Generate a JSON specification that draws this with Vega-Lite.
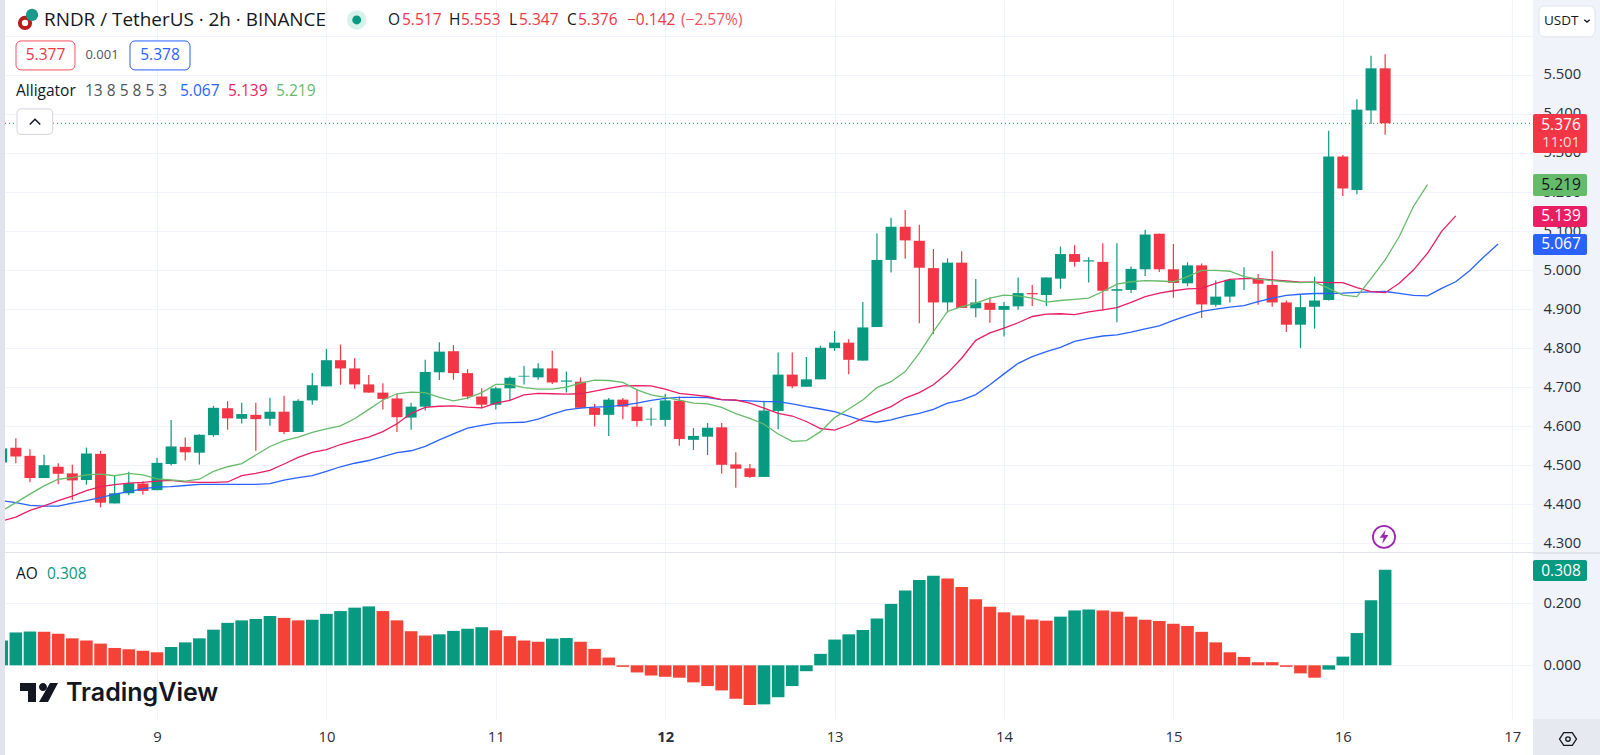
{
"$schema":"https://vega.github.io/schema/vega-lite/v6.json",
"background":"#f0f3fa",
"padding":0,
"spacing":0,
"bounds":"flush",
"data":{"values":[{"annotation":1}]},
"resolve":{"scale":{"color":"independent"}},
"config":{"view":{"stroke":null},"text":{"font":"Open Sans","fontSize":15.5,"align":"left","baseline":"middle","color":"#131722"},"axis":{"labelFont":"Open Sans","labelFontSize":14.8,"labelColor":"#2a2e39","gridColor":"#f0f3fa","gridWidth":1}},
"datasets":{
"ohlc":[
{"d":8.0833,"o":4.507,"h":4.55,"l":4.50,"c":4.543,"dir":"up"},
{"d":8.1667,"o":4.545,"h":4.569,"l":4.505,"c":4.522,"dir":"down"},
{"d":8.25,"o":4.524,"h":4.541,"l":4.456,"c":4.467,"dir":"down"},
{"d":8.3333,"o":4.467,"h":4.527,"l":4.467,"c":4.500,"dir":"up"},
{"d":8.4167,"o":4.496,"h":4.505,"l":4.451,"c":4.478,"dir":"down"},
{"d":8.5,"o":4.479,"h":4.501,"l":4.411,"c":4.461,"dir":"down"},
{"d":8.5833,"o":4.462,"h":4.545,"l":4.450,"c":4.530,"dir":"up"},
{"d":8.6667,"o":4.529,"h":4.537,"l":4.392,"c":4.404,"dir":"down"},
{"d":8.75,"o":4.402,"h":4.473,"l":4.402,"c":4.428,"dir":"up"},
{"d":8.8333,"o":4.428,"h":4.483,"l":4.423,"c":4.454,"dir":"up"},
{"d":8.9167,"o":4.453,"h":4.459,"l":4.424,"c":4.434,"dir":"down"},
{"d":9,"o":4.436,"h":4.519,"l":4.436,"c":4.506,"dir":"up"},
{"d":9.0833,"o":4.503,"h":4.616,"l":4.499,"c":4.548,"dir":"up"},
{"d":9.1667,"o":4.547,"h":4.571,"l":4.512,"c":4.533,"dir":"down"},
{"d":9.25,"o":4.532,"h":4.579,"l":4.502,"c":4.578,"dir":"up"},
{"d":9.3333,"o":4.577,"h":4.652,"l":4.573,"c":4.647,"dir":"up"},
{"d":9.4167,"o":4.646,"h":4.664,"l":4.591,"c":4.620,"dir":"down"},
{"d":9.5,"o":4.619,"h":4.660,"l":4.607,"c":4.631,"dir":"up"},
{"d":9.5833,"o":4.629,"h":4.660,"l":4.537,"c":4.618,"dir":"down"},
{"d":9.6667,"o":4.619,"h":4.673,"l":4.601,"c":4.637,"dir":"up"},
{"d":9.75,"o":4.637,"h":4.678,"l":4.579,"c":4.585,"dir":"down"},
{"d":9.8333,"o":4.585,"h":4.669,"l":4.585,"c":4.665,"dir":"up"},
{"d":9.9167,"o":4.666,"h":4.736,"l":4.655,"c":4.705,"dir":"up"},
{"d":10,"o":4.702,"h":4.798,"l":4.702,"c":4.769,"dir":"up"},
{"d":10.0833,"o":4.769,"h":4.809,"l":4.706,"c":4.748,"dir":"down"},
{"d":10.1667,"o":4.748,"h":4.774,"l":4.696,"c":4.707,"dir":"down"},
{"d":10.25,"o":4.707,"h":4.731,"l":4.686,"c":4.686,"dir":"down"},
{"d":10.3333,"o":4.686,"h":4.710,"l":4.643,"c":4.670,"dir":"down"},
{"d":10.4167,"o":4.671,"h":4.683,"l":4.585,"c":4.623,"dir":"down"},
{"d":10.5,"o":4.622,"h":4.660,"l":4.591,"c":4.650,"dir":"up"},
{"d":10.5833,"o":4.650,"h":4.770,"l":4.640,"c":4.739,"dir":"up"},
{"d":10.6667,"o":4.738,"h":4.815,"l":4.718,"c":4.791,"dir":"up"},
{"d":10.75,"o":4.792,"h":4.808,"l":4.719,"c":4.736,"dir":"down"},
{"d":10.8333,"o":4.736,"h":4.746,"l":4.669,"c":4.676,"dir":"down"},
{"d":10.9167,"o":4.676,"h":4.697,"l":4.646,"c":4.655,"dir":"down"},
{"d":11,"o":4.655,"h":4.701,"l":4.643,"c":4.697,"dir":"up"},
{"d":11.0833,"o":4.697,"h":4.727,"l":4.666,"c":4.724,"dir":"up"},
{"d":11.1667,"o":4.727,"h":4.755,"l":4.707,"c":4.729,"dir":"up"},
{"d":11.25,"o":4.725,"h":4.761,"l":4.719,"c":4.748,"dir":"up"},
{"d":11.3333,"o":4.748,"h":4.793,"l":4.708,"c":4.712,"dir":"down"},
{"d":11.4167,"o":4.714,"h":4.740,"l":4.686,"c":4.717,"dir":"up"},
{"d":11.5,"o":4.714,"h":4.725,"l":4.647,"c":4.647,"dir":"down"},
{"d":11.5833,"o":4.647,"h":4.657,"l":4.599,"c":4.629,"dir":"down"},
{"d":11.6667,"o":4.629,"h":4.672,"l":4.575,"c":4.668,"dir":"up"},
{"d":11.75,"o":4.668,"h":4.672,"l":4.618,"c":4.650,"dir":"down"},
{"d":11.8333,"o":4.650,"h":4.695,"l":4.599,"c":4.613,"dir":"down"},
{"d":11.9167,"o":4.617,"h":4.647,"l":4.601,"c":4.619,"dir":"up"},
{"d":12,"o":4.616,"h":4.683,"l":4.599,"c":4.666,"dir":"up"},
{"d":12.0833,"o":4.665,"h":4.676,"l":4.550,"c":4.567,"dir":"down"},
{"d":12.1667,"o":4.565,"h":4.595,"l":4.539,"c":4.575,"dir":"up"},
{"d":12.25,"o":4.573,"h":4.608,"l":4.526,"c":4.596,"dir":"up"},
{"d":12.3333,"o":4.597,"h":4.608,"l":4.479,"c":4.501,"dir":"down"},
{"d":12.4167,"o":4.502,"h":4.533,"l":4.442,"c":4.491,"dir":"down"},
{"d":12.5,"o":4.492,"h":4.503,"l":4.467,"c":4.470,"dir":"down"},
{"d":12.5833,"o":4.470,"h":4.665,"l":4.470,"c":4.640,"dir":"up"},
{"d":12.6667,"o":4.639,"h":4.789,"l":4.592,"c":4.732,"dir":"up"},
{"d":12.75,"o":4.732,"h":4.789,"l":4.697,"c":4.702,"dir":"down"},
{"d":12.8333,"o":4.701,"h":4.777,"l":4.701,"c":4.720,"dir":"up"},
{"d":12.9167,"o":4.720,"h":4.806,"l":4.720,"c":4.801,"dir":"up"},
{"d":13,"o":4.800,"h":4.844,"l":4.793,"c":4.814,"dir":"up"},
{"d":13.0833,"o":4.814,"h":4.823,"l":4.733,"c":4.770,"dir":"down"},
{"d":13.1667,"o":4.768,"h":4.918,"l":4.768,"c":4.853,"dir":"up"},
{"d":13.25,"o":4.854,"h":5.094,"l":4.854,"c":5.026,"dir":"up"},
{"d":13.3333,"o":5.026,"h":5.134,"l":4.994,"c":5.111,"dir":"up"},
{"d":13.4167,"o":5.111,"h":5.154,"l":5.029,"c":5.076,"dir":"down"},
{"d":13.5,"o":5.075,"h":5.116,"l":4.864,"c":5.006,"dir":"down"},
{"d":13.5833,"o":5.005,"h":5.054,"l":4.836,"c":4.917,"dir":"down"},
{"d":13.6667,"o":4.917,"h":5.030,"l":4.891,"c":5.019,"dir":"up"},
{"d":13.75,"o":5.019,"h":5.048,"l":4.903,"c":4.903,"dir":"down"},
{"d":13.8333,"o":4.902,"h":4.977,"l":4.879,"c":4.917,"dir":"up"},
{"d":13.9167,"o":4.916,"h":4.930,"l":4.865,"c":4.898,"dir":"down"},
{"d":14,"o":4.898,"h":4.918,"l":4.830,"c":4.908,"dir":"up"},
{"d":14.0833,"o":4.907,"h":4.981,"l":4.898,"c":4.941,"dir":"up"},
{"d":14.1667,"o":4.941,"h":4.962,"l":4.908,"c":4.938,"dir":"down"},
{"d":14.25,"o":4.936,"h":4.981,"l":4.908,"c":4.981,"dir":"up"},
{"d":14.3333,"o":4.978,"h":5.060,"l":4.952,"c":5.041,"dir":"up"},
{"d":14.4167,"o":5.041,"h":5.064,"l":5.009,"c":5.021,"dir":"down"},
{"d":14.5,"o":5.022,"h":5.033,"l":4.968,"c":5.025,"dir":"up"},
{"d":14.5833,"o":5.021,"h":5.069,"l":4.896,"c":4.947,"dir":"down"},
{"d":14.6667,"o":4.947,"h":5.069,"l":4.866,"c":4.951,"dir":"up"},
{"d":14.75,"o":4.949,"h":5.009,"l":4.941,"c":5.003,"dir":"up"},
{"d":14.8333,"o":5.002,"h":5.103,"l":4.985,"c":5.091,"dir":"up"},
{"d":14.9167,"o":5.093,"h":5.094,"l":4.995,"c":5.002,"dir":"down"},
{"d":15,"o":5.002,"h":5.067,"l":4.929,"c":4.967,"dir":"down"},
{"d":15.0833,"o":4.966,"h":5.020,"l":4.959,"c":5.012,"dir":"up"},
{"d":15.1667,"o":5.012,"h":5.017,"l":4.877,"c":4.912,"dir":"down"},
{"d":15.25,"o":4.911,"h":4.973,"l":4.906,"c":4.932,"dir":"up"},
{"d":15.3333,"o":4.932,"h":4.978,"l":4.917,"c":4.975,"dir":"up"},
{"d":15.4167,"o":4.977,"h":5.007,"l":4.949,"c":4.979,"dir":"up"},
{"d":15.5,"o":4.978,"h":4.990,"l":4.911,"c":4.965,"dir":"down"},
{"d":15.5833,"o":4.962,"h":5.049,"l":4.906,"c":4.917,"dir":"down"},
{"d":15.6667,"o":4.917,"h":4.922,"l":4.841,"c":4.860,"dir":"down"},
{"d":15.75,"o":4.860,"h":4.936,"l":4.800,"c":4.905,"dir":"up"},
{"d":15.8333,"o":4.906,"h":4.983,"l":4.850,"c":4.922,"dir":"up"},
{"d":15.9167,"o":4.923,"h":5.357,"l":4.922,"c":5.291,"dir":"up"},
{"d":16,"o":5.291,"h":5.295,"l":5.190,"c":5.209,"dir":"down"},
{"d":16.0833,"o":5.205,"h":5.438,"l":5.194,"c":5.411,"dir":"up"},
{"d":16.1667,"o":5.409,"h":5.549,"l":5.374,"c":5.517,"dir":"up"},
{"d":16.25,"o":5.517,"h":5.553,"l":5.347,"c":5.376,"dir":"down"}
],
"gator":[
{"d":8.0833,"jaw":4.409,"teeth":4.357,"lips":4.383},{"d":8.1667,"jaw":4.404,"teeth":4.367,"lips":4.404},{"d":8.25,"jaw":4.397,"teeth":4.384,"lips":4.426},{"d":8.3333,"jaw":4.395,"teeth":4.396,"lips":4.447},{"d":8.4167,"jaw":4.395,"teeth":4.409,"lips":4.464},{"d":8.5,"jaw":4.403,"teeth":4.421,"lips":4.468},{"d":8.5833,"jaw":4.409,"teeth":4.435,"lips":4.475},{"d":8.6667,"jaw":4.417,"teeth":4.445,"lips":4.477},{"d":8.75,"jaw":4.426,"teeth":4.450,"lips":4.473},{"d":8.8333,"jaw":4.432,"teeth":4.454,"lips":4.479},{"d":8.9167,"jaw":4.440,"teeth":4.456,"lips":4.475},{"d":9,"jaw":4.444,"teeth":4.459,"lips":4.465},
{"d":9.0833,"jaw":4.445,"teeth":4.461,"lips":4.462},{"d":9.1667,"jaw":4.448,"teeth":4.457,"lips":4.459},{"d":9.25,"jaw":4.451,"teeth":4.456,"lips":4.464},{"d":9.3333,"jaw":4.451,"teeth":4.456,"lips":4.484},{"d":9.4167,"jaw":4.451,"teeth":4.457,"lips":4.496},{"d":9.5,"jaw":4.451,"teeth":4.473,"lips":4.504},{"d":9.5833,"jaw":4.451,"teeth":4.479,"lips":4.526},{"d":9.6667,"jaw":4.453,"teeth":4.487,"lips":4.548},{"d":9.75,"jaw":4.462,"teeth":4.503,"lips":4.563},{"d":9.8333,"jaw":4.468,"teeth":4.520,"lips":4.572},{"d":9.9167,"jaw":4.473,"teeth":4.533,"lips":4.584},{"d":10,"jaw":4.484,"teeth":4.540,"lips":4.593},
{"d":10.0833,"jaw":4.496,"teeth":4.553,"lips":4.601},{"d":10.1667,"jaw":4.505,"teeth":4.563,"lips":4.619},{"d":10.25,"jaw":4.512,"teeth":4.572,"lips":4.643},{"d":10.3333,"jaw":4.522,"teeth":4.586,"lips":4.667},{"d":10.4167,"jaw":4.532,"teeth":4.606,"lips":4.683},{"d":10.5,"jaw":4.537,"teeth":4.633,"lips":4.687},{"d":10.5833,"jaw":4.548,"teeth":4.648,"lips":4.686},{"d":10.6667,"jaw":4.565,"teeth":4.651,"lips":4.674},{"d":10.75,"jaw":4.580,"teeth":4.652,"lips":4.665},{"d":10.8333,"jaw":4.595,"teeth":4.649,"lips":4.672},{"d":10.9167,"jaw":4.602,"teeth":4.647,"lips":4.686},{"d":11,"jaw":4.608,"teeth":4.659,"lips":4.707},
{"d":11.0833,"jaw":4.609,"teeth":4.666,"lips":4.707},{"d":11.1667,"jaw":4.610,"teeth":4.680,"lips":4.699},{"d":11.25,"jaw":4.618,"teeth":4.684,"lips":4.695},{"d":11.3333,"jaw":4.631,"teeth":4.683,"lips":4.695},{"d":11.4167,"jaw":4.642,"teeth":4.682,"lips":4.700},{"d":11.5,"jaw":4.646,"teeth":4.683,"lips":4.710},{"d":11.5833,"jaw":4.649,"teeth":4.690,"lips":4.718},{"d":11.6667,"jaw":4.650,"teeth":4.697,"lips":4.717},{"d":11.75,"jaw":4.654,"teeth":4.703,"lips":4.712},{"d":11.8333,"jaw":4.659,"teeth":4.704,"lips":4.693},{"d":11.9167,"jaw":4.666,"teeth":4.703,"lips":4.680},{"d":12,"jaw":4.671,"teeth":4.695,"lips":4.674},
{"d":12.0833,"jaw":4.674,"teeth":4.684,"lips":4.667},{"d":12.1667,"jaw":4.674,"teeth":4.680,"lips":4.659},{"d":12.25,"jaw":4.673,"teeth":4.676,"lips":4.657},{"d":12.3333,"jaw":4.668,"teeth":4.668,"lips":4.648},{"d":12.4167,"jaw":4.666,"teeth":4.667,"lips":4.632},{"d":12.5,"jaw":4.665,"teeth":4.659,"lips":4.620},{"d":12.5833,"jaw":4.663,"teeth":4.646,"lips":4.605},{"d":12.6667,"jaw":4.663,"teeth":4.633,"lips":4.580},{"d":12.75,"jaw":4.657,"teeth":4.626,"lips":4.561},{"d":12.8333,"jaw":4.650,"teeth":4.612,"lips":4.563},{"d":12.9167,"jaw":4.644,"teeth":4.594,"lips":4.586},{"d":13,"jaw":4.637,"teeth":4.590,"lips":4.622},
{"d":13.0833,"jaw":4.626,"teeth":4.603,"lips":4.644},{"d":13.1667,"jaw":4.614,"teeth":4.620,"lips":4.667},{"d":13.25,"jaw":4.610,"teeth":4.636,"lips":4.699},{"d":13.3333,"jaw":4.616,"teeth":4.650,"lips":4.714},{"d":13.4167,"jaw":4.626,"teeth":4.672,"lips":4.740},{"d":13.5,"jaw":4.633,"teeth":4.686,"lips":4.787},{"d":13.5833,"jaw":4.643,"teeth":4.706,"lips":4.842},{"d":13.6667,"jaw":4.659,"teeth":4.736,"lips":4.894},{"d":13.75,"jaw":4.667,"teeth":4.774,"lips":4.906},{"d":13.8333,"jaw":4.681,"teeth":4.820,"lips":4.915},{"d":13.9167,"jaw":4.706,"teeth":4.839,"lips":4.928},{"d":14,"jaw":4.734,"teeth":4.851,"lips":4.936},
{"d":14.0833,"jaw":4.761,"teeth":4.865,"lips":4.934},{"d":14.1667,"jaw":4.778,"teeth":4.881,"lips":4.928},{"d":14.25,"jaw":4.791,"teeth":4.887,"lips":4.918},{"d":14.3333,"jaw":4.802,"teeth":4.888,"lips":4.922},{"d":14.4167,"jaw":4.817,"teeth":4.886,"lips":4.925},{"d":14.5,"jaw":4.825,"teeth":4.893,"lips":4.928},{"d":14.5833,"jaw":4.831,"teeth":4.898,"lips":4.945},{"d":14.6667,"jaw":4.834,"teeth":4.904,"lips":4.964},{"d":14.75,"jaw":4.841,"teeth":4.917,"lips":4.970},{"d":14.8333,"jaw":4.849,"teeth":4.932,"lips":4.973},{"d":14.9167,"jaw":4.857,"teeth":4.941,"lips":4.972},{"d":15,"jaw":4.871,"teeth":4.947,"lips":4.970},
{"d":15.0833,"jaw":4.883,"teeth":4.952,"lips":4.983},{"d":15.1667,"jaw":4.894,"teeth":4.953,"lips":4.999},{"d":15.25,"jaw":4.900,"teeth":4.966,"lips":4.999},{"d":15.3333,"jaw":4.905,"teeth":4.976,"lips":4.997},{"d":15.4167,"jaw":4.909,"teeth":4.978,"lips":4.983},{"d":15.5,"jaw":4.919,"teeth":4.978,"lips":4.977},{"d":15.5833,"jaw":4.928,"teeth":4.975,"lips":4.973},{"d":15.6667,"jaw":4.935,"teeth":4.972,"lips":4.970},{"d":15.75,"jaw":4.938,"teeth":4.969,"lips":4.968},{"d":15.8333,"jaw":4.940,"teeth":4.969,"lips":4.969},{"d":15.9167,"jaw":4.940,"teeth":4.968,"lips":4.953},{"d":16,"jaw":4.941,"teeth":4.968,"lips":4.936},
{"d":16.0833,"jaw":4.943,"teeth":4.955,"lips":4.932},{"d":16.1667,"jaw":4.944,"teeth":4.945,"lips":4.978},{"d":16.25,"jaw":4.945,"teeth":4.942,"lips":5.026},{"d":16.3333,"jaw":4.940,"teeth":4.966,"lips":5.086},{"d":16.4167,"jaw":4.935,"teeth":5.000,"lips":5.163},{"d":16.5,"jaw":4.934,"teeth":5.043,"lips":5.219},{"d":16.5833,"jaw":4.953,"teeth":5.099},{"d":16.6667,"jaw":4.970,"teeth":5.139},{"d":16.75,"jaw":4.999},{"d":16.8333,"jaw":5.034},{"d":16.9167,"jaw":5.067}
],
"aoBars":[
{"d":8.0833,"ao":0.080,"dir":"up"},{"d":8.1667,"ao":0.106,"dir":"up"},{"d":8.25,"ao":0.109,"dir":"up"},{"d":8.3333,"ao":0.108,"dir":"down"},{"d":8.4167,"ao":0.102,"dir":"down"},{"d":8.5,"ao":0.087,"dir":"down"},{"d":8.5833,"ao":0.080,"dir":"down"},{"d":8.6667,"ao":0.070,"dir":"down"},{"d":8.75,"ao":0.056,"dir":"down"},{"d":8.8333,"ao":0.052,"dir":"down"},{"d":8.9167,"ao":0.047,"dir":"down"},{"d":9,"ao":0.042,"dir":"down"},
{"d":9.0833,"ao":0.059,"dir":"up"},{"d":9.1667,"ao":0.074,"dir":"up"},{"d":9.25,"ao":0.087,"dir":"up"},{"d":9.3333,"ao":0.115,"dir":"up"},{"d":9.4167,"ao":0.137,"dir":"up"},{"d":9.5,"ao":0.145,"dir":"up"},{"d":9.5833,"ao":0.149,"dir":"up"},{"d":9.6667,"ao":0.159,"dir":"up"},{"d":9.75,"ao":0.153,"dir":"down"},{"d":9.8333,"ao":0.145,"dir":"down"},{"d":9.9167,"ao":0.147,"dir":"up"},{"d":10,"ao":0.166,"dir":"up"},
{"d":10.0833,"ao":0.175,"dir":"up"},{"d":10.1667,"ao":0.186,"dir":"up"},{"d":10.25,"ao":0.190,"dir":"up"},{"d":10.3333,"ao":0.175,"dir":"down"},{"d":10.4167,"ao":0.145,"dir":"down"},{"d":10.5,"ao":0.110,"dir":"down"},{"d":10.5833,"ao":0.096,"dir":"down"},{"d":10.6667,"ao":0.100,"dir":"up"},{"d":10.75,"ao":0.111,"dir":"up"},{"d":10.8333,"ao":0.118,"dir":"up"},{"d":10.9167,"ao":0.123,"dir":"up"},{"d":11,"ao":0.113,"dir":"down"},
{"d":11.0833,"ao":0.094,"dir":"down"},{"d":11.1667,"ao":0.080,"dir":"down"},{"d":11.25,"ao":0.076,"dir":"down"},{"d":11.3333,"ao":0.086,"dir":"up"},{"d":11.4167,"ao":0.088,"dir":"up"},{"d":11.5,"ao":0.076,"dir":"down"},{"d":11.5833,"ao":0.053,"dir":"down"},{"d":11.6667,"ao":0.025,"dir":"down"},{"d":11.75,"ao":-0.005,"dir":"down"},{"d":11.8333,"ao":-0.023,"dir":"down"},{"d":11.9167,"ao":-0.033,"dir":"down"},{"d":12,"ao":-0.037,"dir":"down"},
{"d":12.0833,"ao":-0.040,"dir":"down"},{"d":12.1667,"ao":-0.055,"dir":"down"},{"d":12.25,"ao":-0.067,"dir":"down"},{"d":12.3333,"ao":-0.081,"dir":"down"},{"d":12.4167,"ao":-0.108,"dir":"down"},{"d":12.5,"ao":-0.128,"dir":"down"},{"d":12.5833,"ao":-0.126,"dir":"up"},{"d":12.6667,"ao":-0.103,"dir":"up"},{"d":12.75,"ao":-0.067,"dir":"up"},{"d":12.8333,"ao":-0.019,"dir":"up"},{"d":12.9167,"ao":0.037,"dir":"up"},{"d":13,"ao":0.083,"dir":"up"},
{"d":13.0833,"ao":0.100,"dir":"up"},{"d":13.1667,"ao":0.114,"dir":"up"},{"d":13.25,"ao":0.151,"dir":"up"},{"d":13.3333,"ao":0.198,"dir":"up"},{"d":13.4167,"ao":0.241,"dir":"up"},{"d":13.5,"ao":0.275,"dir":"up"},{"d":13.5833,"ao":0.289,"dir":"up"},{"d":13.6667,"ao":0.280,"dir":"down"},{"d":13.75,"ao":0.253,"dir":"down"},{"d":13.8333,"ao":0.213,"dir":"down"},{"d":13.9167,"ao":0.189,"dir":"down"},{"d":14,"ao":0.171,"dir":"down"},
{"d":14.0833,"ao":0.161,"dir":"down"},{"d":14.1667,"ao":0.148,"dir":"down"},{"d":14.25,"ao":0.144,"dir":"down"},{"d":14.3333,"ao":0.157,"dir":"up"},{"d":14.4167,"ao":0.177,"dir":"up"},{"d":14.5,"ao":0.180,"dir":"up"},{"d":14.5833,"ao":0.177,"dir":"down"},{"d":14.6667,"ao":0.173,"dir":"down"},{"d":14.75,"ao":0.157,"dir":"down"},{"d":14.8333,"ao":0.147,"dir":"down"},{"d":14.9167,"ao":0.143,"dir":"down"},{"d":15,"ao":0.134,"dir":"down"},
{"d":15.0833,"ao":0.127,"dir":"down"},{"d":15.1667,"ao":0.108,"dir":"down"},{"d":15.25,"ao":0.074,"dir":"down"},{"d":15.3333,"ao":0.042,"dir":"down"},{"d":15.4167,"ao":0.027,"dir":"down"},{"d":15.5,"ao":0.010,"dir":"down"},{"d":15.5833,"ao":0.010,"dir":"down"},{"d":15.6667,"ao":-0.005,"dir":"down"},{"d":15.75,"ao":-0.026,"dir":"down"},{"d":15.8333,"ao":-0.040,"dir":"down"},{"d":15.9167,"ao":-0.014,"dir":"up"},{"d":16,"ao":0.028,"dir":"up"},
{"d":16.0833,"ao":0.104,"dir":"up"},{"d":16.1667,"ao":0.210,"dir":"up"},{"d":16.25,"ao":0.308,"dir":"up"}
]
},
"vconcat":[
{"width":1528,"height":553,"view":{"fill":"#ffffff","stroke":null},
"layer":[
{"mark":{"type":"rect","fill":"#e0e3eb"},"encoding":{
"x":{"datum":8.0732,"title":null,"scale":{"domain":[8.1027,17.1228],"nice":false,"zero":false,"padding":0},"axis":{"title":null,"orient":"bottom","labels":false,"ticks":false,"domain":false,"grid":true,"values":[9,10,11,12,13,14,15,16,17]}},
"x2":{"datum":8.1027},
"y":{"datum":4.275,"title":null,"scale":{"domain":[4.275,5.692],"nice":false,"zero":false,"padding":0},"axis":{"title":null,"orient":"right","labelPadding":10,"ticks":false,"domain":false,"grid":true,"format":".3f","values":[4.3,4.4,4.5,4.6,4.7,4.8,4.9,5.0,5.1,5.2,5.3,5.4,5.5,5.6],"labelExpr":"datum.value>5.55?'':datum.label"}},
"y2":{"datum":5.692}}},
{"data":{"name":"ohlc"},"mark":{"type":"rule","strokeWidth":1.2,"clip":true},"encoding":{"x":{"field":"d","type":"quantitative"},"y":{"field":"l","type":"quantitative"},"y2":{"field":"h"},"color":{"field":"dir","type":"nominal","legend":null,"scale":{"domain":["up","down"],"range":["#089981","#f23645"]}}}},
{"data":{"name":"ohlc"},"mark":{"type":"bar","size":11,"orient":"vertical","clip":true},"encoding":{"x":{"field":"d","type":"quantitative"},"y":{"field":"o","type":"quantitative"},"y2":{"field":"c"},"color":{"field":"dir","type":"nominal","legend":null,"scale":{"domain":["up","down"],"range":["#089981","#f23645"]}}}},
{"data":{"name":"gator"},"mark":{"type":"line","color":"#2962ff","strokeWidth":1.3,"clip":true},"encoding":{"x":{"field":"d","type":"quantitative"},"y":{"field":"jaw","type":"quantitative"}}},
{"data":{"name":"gator"},"mark":{"type":"line","color":"#e91e63","strokeWidth":1.3,"clip":true},"encoding":{"x":{"field":"d","type":"quantitative"},"y":{"field":"teeth","type":"quantitative"}}},
{"data":{"name":"gator"},"mark":{"type":"line","color":"#66bb6a","strokeWidth":1.3,"clip":true},"encoding":{"x":{"field":"d","type":"quantitative"},"y":{"field":"lips","type":"quantitative"}}},
{"mark":{"type":"rule","color":"#f23645","strokeWidth":1,"strokeDash":[1,3]},"encoding":{"x":{"datum":8.1027},"x2":{"datum":17.1228},"y":{"datum":5.376}}},
{"mark":{"type":"rule","color":"#e0e3eb","strokeWidth":2},"encoding":{"x":{"datum":8.1027},"x2":{"datum":17.5183},"y":{"datum":4.275}}},
{"mark":{"type":"point","filled":true,"opacity":1,"color":"#b71c1c","size":201},"encoding":{"x":{"datum":8.2208},"y":{"datum":5.6332}}},
{"mark":{"type":"point","filled":true,"opacity":1,"color":"#ffffff","size":40},"encoding":{"x":{"datum":8.2208},"y":{"datum":5.6332}}},
{"mark":{"type":"point","filled":true,"opacity":1,"color":"#1a9a8a","size":150},"encoding":{"x":{"datum":8.2621},"y":{"datum":5.6537}}},
{"mark":{"type":"text","text":"RNDR / TetherUS · 2h · BINANCE","fontSize":18.9},"encoding":{"x":{"datum":8.3329},"y":{"datum":5.6409}}},
{"mark":{"type":"point","filled":true,"opacity":1,"color":"#d6f0ea","size":380},"encoding":{"x":{"datum":10.179},"y":{"datum":5.6409}}},
{"mark":{"type":"point","filled":true,"opacity":1,"color":"#089981","size":79},"encoding":{"x":{"datum":10.179},"y":{"datum":5.6409}}},
{"mark":{"type":"text","text":"O"},"encoding":{"x":{"datum":10.3636},"y":{"datum":5.6409}}},
{"mark":{"type":"text","text":"5.517","color":"#f23645"},"encoding":{"x":{"datum":10.4463},"y":{"datum":5.6409}}},
{"mark":{"type":"text","text":"H"},"encoding":{"x":{"datum":10.7237},"y":{"datum":5.6409}}},
{"mark":{"type":"text","text":"5.553","color":"#f23645"},"encoding":{"x":{"datum":10.7946},"y":{"datum":5.6409}}},
{"mark":{"type":"text","text":"L"},"encoding":{"x":{"datum":11.0779},"y":{"datum":5.6409}}},
{"mark":{"type":"text","text":"5.347","color":"#f23645"},"encoding":{"x":{"datum":11.137},"y":{"datum":5.6409}}},
{"mark":{"type":"text","text":"C"},"encoding":{"x":{"datum":11.4203},"y":{"datum":5.6409}}},
{"mark":{"type":"text","text":"5.376","color":"#f23645"},"encoding":{"x":{"datum":11.4853},"y":{"datum":5.6409}}},
{"mark":{"type":"text","text":"−0.142","color":"#f23645"},"encoding":{"x":{"datum":11.7745},"y":{"datum":5.6409}}},
{"mark":{"type":"text","text":"(−2.57%)","color":"#f7525f"},"encoding":{"x":{"datum":12.0933},"y":{"datum":5.6409}}},
{"mark":{"type":"rect","fill":"#ffffff","stroke":"#f7525f","cornerRadius":5},"encoding":{"x":{"datum":8.1677},"x2":{"datum":8.5159},"y":{"datum":5.5871},"y2":{"datum":5.5128}}},
{"mark":{"type":"text","text":"5.377","color":"#f23645","align":"center"},"encoding":{"x":{"datum":8.3418},"y":{"datum":5.55}}},
{"mark":{"type":"text","text":"0.001","color":"#50535e","align":"center","fontSize":13},"encoding":{"x":{"datum":8.6753},"y":{"datum":5.55}}},
{"mark":{"type":"rect","fill":"#ffffff","stroke":"#2962ff","cornerRadius":5},"encoding":{"x":{"datum":8.8406},"x2":{"datum":9.1948},"y":{"datum":5.5871},"y2":{"datum":5.5128}}},
{"mark":{"type":"text","text":"5.378","color":"#2962ff","align":"center"},"encoding":{"x":{"datum":9.0177},"y":{"datum":5.55}}},
{"mark":{"type":"text","text":"Alligator"},"encoding":{"x":{"datum":8.1677},"y":{"datum":5.459}}},
{"mark":{"type":"text","text":"13 8 5 8 5 3","color":"#50535e"},"encoding":{"x":{"datum":8.575},"y":{"datum":5.459}}},
{"mark":{"type":"text","text":"5.067","color":"#2962ff"},"encoding":{"x":{"datum":9.1358},"y":{"datum":5.459}}},
{"mark":{"type":"text","text":"5.139","color":"#e91e63"},"encoding":{"x":{"datum":9.4191},"y":{"datum":5.459}}},
{"mark":{"type":"text","text":"5.219","color":"#66bb6a"},"encoding":{"x":{"datum":9.7025},"y":{"datum":5.459}}},
{"mark":{"type":"rect","fill":"#ffffff","stroke":"#d1d4dc","cornerRadius":4},"encoding":{"x":{"datum":8.1736},"x2":{"datum":8.3843},"y":{"datum":5.4129},"y2":{"datum":5.3476}}},
{"mark":{"type":"point","shape":"M-1,.5L0,-.5L1,.5","filled":false,"opacity":1,"color":"#131722","size":110,"strokeWidth":1.6},"encoding":{"x":{"datum":8.2798},"y":{"datum":5.3796}}},
{"mark":{"type":"rect","fill":"#f23645","cornerRadius":2},"encoding":{"x":{"datum":17.1228},"x2":{"datum":17.4416},"y":{"datum":5.4001},"y2":{"datum":5.3002}}},
{"mark":{"type":"text","text":"5.376","color":"#ffffff","align":"center","fontSize":15.5,"fontWeight":500},"encoding":{"x":{"datum":17.2881},"y":{"datum":5.3719}}},
{"mark":{"type":"text","text":"11:01","color":"#fbd5d9","align":"center","fontSize":15},"encoding":{"x":{"datum":17.2881},"y":{"datum":5.3283}}},
{"mark":{"type":"rect","fill":"#66bb6a","cornerRadius":2},"encoding":{"x":{"datum":17.1228},"x2":{"datum":17.4416},"y":{"datum":5.2463},"y2":{"datum":5.19}}},
{"mark":{"type":"text","text":"5.219","color":"#131722","align":"center","fontSize":15.5},"encoding":{"x":{"datum":17.2881},"y":{"datum":5.2182}}},
{"mark":{"type":"rect","fill":"#e91e63","cornerRadius":2},"encoding":{"x":{"datum":17.1228},"x2":{"datum":17.4416},"y":{"datum":5.1644},"y2":{"datum":5.1106}}},
{"mark":{"type":"text","text":"5.139","color":"#ffffff","align":"center","fontSize":15.5,"fontWeight":500},"encoding":{"x":{"datum":17.2881},"y":{"datum":5.1375}}},
{"mark":{"type":"rect","fill":"#2962ff","cornerRadius":2},"encoding":{"x":{"datum":17.1228},"x2":{"datum":17.4416},"y":{"datum":5.0926},"y2":{"datum":5.0388}}},
{"mark":{"type":"text","text":"5.067","color":"#ffffff","align":"center","fontSize":15.5,"fontWeight":500},"encoding":{"x":{"datum":17.2881},"y":{"datum":5.0657}}},
{"mark":{"type":"rect","fill":"#ffffff","stroke":"#e0e3eb","cornerRadius":6},"encoding":{"x":{"datum":17.1582},"x2":{"datum":17.4888},"y":{"datum":5.6768},"y2":{"datum":5.5974}}},
{"mark":{"type":"text","text":"USDT","fontSize":13.5},"encoding":{"x":{"datum":17.1877},"y":{"datum":5.6384}}},
{"mark":{"type":"point","shape":"M-1,-.4L0,.4L1,-.4","filled":false,"opacity":1,"color":"#131722","size":30,"strokeWidth":1.4},"encoding":{"x":{"datum":17.4416},"y":{"datum":5.6384}}},
{"mark":{"type":"point","filled":true,"opacity":1,"color":"#ffffff","size":530},"encoding":{"x":{"datum":16.2432},"y":{"datum":4.3163}}},
{"mark":{"type":"point","filled":false,"opacity":1,"color":"#9c27b0","size":490,"strokeWidth":1.8},"encoding":{"x":{"datum":16.2432},"y":{"datum":4.3163}}},
{"mark":{"type":"point","shape":"M.25,-1L-.625,.125L-.06,.125L-.25,1L.625,-.25L.06,-.25Z","filled":true,"opacity":1,"color":"#9c27b0","size":200},"encoding":{"x":{"datum":16.2432},"y":{"datum":4.3163}}}
]},
{"width":1528,"height":166,"view":{"fill":"#ffffff","stroke":null},
"layer":[
{"mark":{"type":"rect","fill":"#e0e3eb"},"encoding":{
"x":{"datum":8.0732,"title":null,"scale":{"domain":[8.1027,17.1228],"nice":false,"zero":false,"padding":0},"axis":{"title":null,"orient":"bottom","labels":false,"ticks":false,"domain":false,"grid":true,"values":[9,10,11,12,13,14,15,16,17]}},
"x2":{"datum":8.1027},
"y":{"datum":-0.1732,"title":null,"scale":{"domain":[-0.1732,0.3623],"nice":false,"zero":false,"padding":0},"axis":{"title":null,"orient":"right","labelPadding":10,"ticks":false,"domain":false,"grid":true,"format":".3f","values":[0,0.2]}},
"y2":{"datum":0.3623}}},
{"data":{"name":"aoBars"},"mark":{"type":"bar","size":12.6,"orient":"vertical","clip":true},"encoding":{"x":{"field":"d","type":"quantitative"},"y":{"field":"ao","type":"quantitative"},"y2":{"datum":0},"color":{"field":"dir","type":"nominal","legend":null,"scale":{"domain":["up","down"],"range":["#089981","#f44336"]}}}},
{"mark":{"type":"text","text":"AO"},"encoding":{"x":{"datum":8.1677},"y":{"datum":0.2945}}},
{"mark":{"type":"text","text":"0.308","color":"#089981"},"encoding":{"x":{"datum":8.3506},"y":{"datum":0.2945}}},
{"mark":{"type":"rect","fill":"#089981","cornerRadius":2},"encoding":{"x":{"datum":17.1228},"x2":{"datum":17.4416},"y":{"datum":0.3397},"y2":{"datum":0.2719}}},
{"mark":{"type":"text","text":"0.308","color":"#ffffff","align":"center","fontSize":15.5,"fontWeight":500},"encoding":{"x":{"datum":17.2881},"y":{"datum":0.3058}}},
{"mark":{"type":"point","shape":"M-1,-.5L-.158,-.5L-.158,.5L-.579,.5L-.579,-.079L-1,-.079ZM0,-.29A.21,.21 0 1 0 .42,-.29A.21,.21 0 1 0 0,-.29ZM.579,-.5L1,-.5L.474,.5L0,.5Z","filled":true,"opacity":1,"color":"#131722","size":1444},"encoding":{"x":{"datum":8.3034},"y":{"datum":-0.0877}}},
{"mark":{"type":"text","text":"TradingView","font":"Inter","fontSize":25,"fontWeight":600},"encoding":{"x":{"datum":8.4628},"y":{"datum":-0.0894}}}
]},
{"width":1528,"height":36,"view":{"fill":"#ffffff","stroke":null},
"layer":[
{"mark":{"type":"rect","fill":"#e0e3eb"},"encoding":{
"x":{"datum":8.0732,"title":null,"scale":{"domain":[8.1027,17.1228],"nice":false,"zero":false,"padding":0},"axis":{"title":null,"orient":"top","labelPadding":-18,"labelBaseline":"middle","labelAlign":"center","ticks":false,"domain":false,"grid":false,"format":"d","values":[9,10,11,12,13,14,15,16,17],"labelFontWeight":{"condition":{"test":"datum.value==12","value":"bold"},"value":"normal"},"minExtent":0,"maxExtent":0}},
"x2":{"datum":8.1027},
"y":{"datum":0,"title":null,"scale":{"domain":[0,1],"nice":false,"zero":false},"axis":null},
"y2":{"datum":1}}},
{"mark":{"type":"rect","fill":"#e6e9f0"},"encoding":{"x":{"datum":17.1228},"x2":{"datum":17.5183},"y":{"datum":0},"y2":{"datum":1}}},
{"mark":{"type":"point","shape":"M-1,0L-.5,-.75L.5,-.75L1,0L.5,.75L-.5,.75Z","filled":false,"opacity":1,"color":"#131722","size":289,"strokeWidth":1.3},"encoding":{"x":{"datum":17.3294},"y":{"datum":0.444}}},
{"mark":{"type":"point","filled":false,"opacity":1,"color":"#131722","size":20,"strokeWidth":1.3},"encoding":{"x":{"datum":17.3294},"y":{"datum":0.444}}}
]}
]
}
